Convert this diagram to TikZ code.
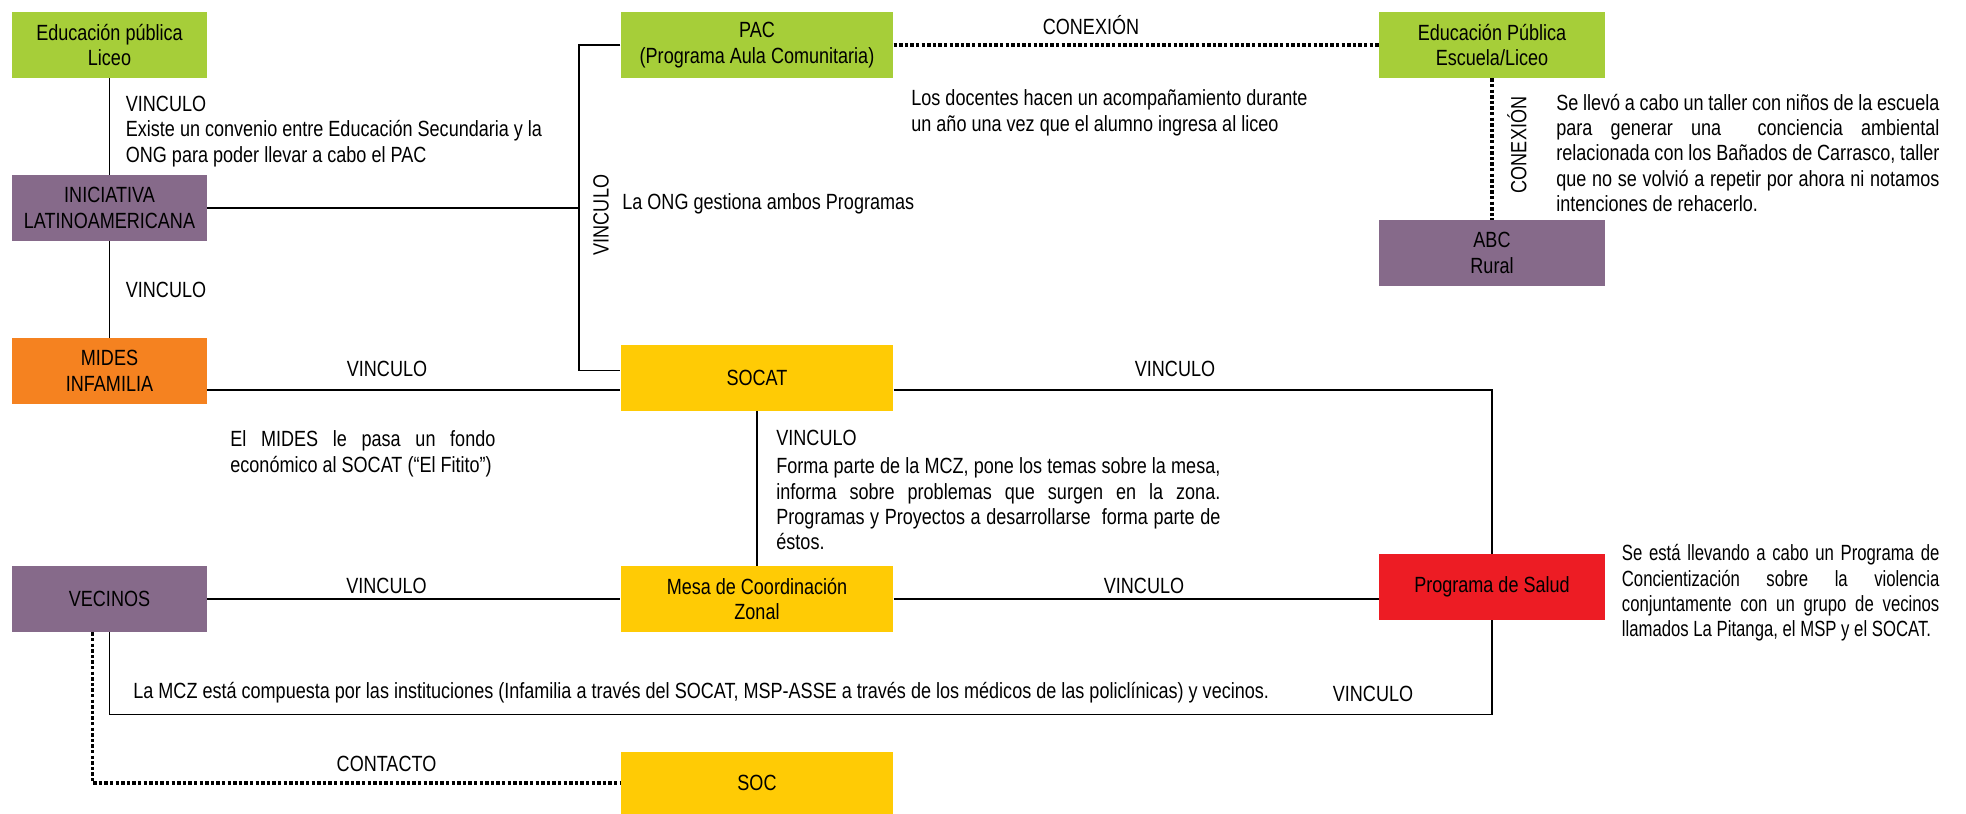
\documentclass[tikz,border=0pt]{standalone}
\usepackage{fontspec}
\setmainfont{Liberation Sans}[FakeStretch=0.82]
\newfontfamily\estrecha{Liberation Sans}[FakeStretch=0.76]
\usepackage{xcolor}
\usetikzlibrary{calc}
\hyphenpenalty=10000
\tolerance=10000

\definecolor{verde}{RGB}{166,206,57}
\definecolor{violeta}{RGB}{134,106,138}
\definecolor{naranja}{RGB}{245,130,32}
\definecolor{amarillo}{RGB}{255,203,5}
\definecolor{rojo}{RGB}{237,28,36}

\begin{document}
\begin{tikzpicture}[x=0.5pt, y=-0.5pt, font=\fontsize{11}{12.7}\selectfont,
		box/.style={inner sep=0pt, minimum height=33pt, align=center},
		izq/.style={box, minimum width=97.5pt},
		centro/.style={box, minimum width=136.25pt},
		der/.style={box, minimum width=113pt},
		enlace/.style={line width=0.9pt},
		conexion/.style={line width=1.7pt, dash pattern=on 1.7pt off 1.1pt},
		rotulo/.style={inner sep=0pt},
		parrafo/.style={inner sep=0pt, anchor=north west, align=justify}]
		\useasboundingbox (0,0) rectangle (1966,814);
		
		\node (liceo) at (109.5,45) [izq, fill=verde] {Educación pública\\Liceo};
		\node (iniciativa) at (109.5,208) [izq, fill=violeta] {INICIATIVA\\LATINOAMERICANA};
		\node (mides) at (109.5,371) [izq, fill=naranja] {MIDES\\INFAMILIA};
		\node (vecinos) at (109.5,599) [izq, fill=violeta] {VECINOS};
		
		\node (pac) at (757,45) [centro, fill=verde] {PAC\\(Programa Aula Comunitaria)};
		\node (socat) at (757,377.5) [centro, fill=amarillo] {SOCAT};
		\node (mcz) at (757,599) [centro, fill=amarillo] {Mesa de Coordinación\\Zonal};
		\node (soc) at (757,783) [centro, minimum height=31pt, fill=amarillo] {SOC};
		
		\node (escuela) at (1492,45) [der, fill=verde] {Educación Pública\\Escuela/Liceo};
		\node (abc) at (1492,253) [der, fill=violeta] {ABC\\Rural};
		\node (salud) at (1492,587) [der, fill=rojo] {Programa de Salud};
		
		\coordinate (ong) at (579,208);
		\coordinate (fondo) at ([yshift=-6.25pt]socat.west);
		
		\draw[enlace] (liceo) -- (iniciativa);
		\draw[enlace] (iniciativa) -- (mides);
		\draw[enlace] (iniciativa.east) -- (ong);
		\draw[enlace] (pac.west) -| (ong) |- ([yshift=3.5pt]socat.west);
		\draw[enlace] (mides.east |- fondo) -- (fondo);
		\draw[enlace] ([yshift=-6.25pt]socat.east) -| (salud.north);
		\draw[enlace] (socat) -- (mcz);
		\draw[enlace] (vecinos) -- (mcz);
		\draw[enlace] (mcz.east) -- (mcz.east -| salud.west);
		\draw[enlace] (vecinos.south) -- ++(0,82) -| (salud.south);
		
		\draw[conexion] (pac) -- (escuela);
		\draw[conexion] (escuela) -- (abc);
		\draw[conexion] ([xshift=-8.5pt]vecinos.south) |- (soc.west);
		
		\node (vliceo) at (125.5,95.5) [parrafo, align=left] {VINCULO\\Existe un convenio entre Educación Secundaria y la\\ONG para poder llevar a cabo el PAC};
		\node (vmides) at (125.5,290) [rotulo, anchor=west] {VINCULO};
		\node (vfondo) at (387,369) [rotulo] {VINCULO};
		\node (vong) at (601,215) [rotulo, rotate=90] {VINCULO};
		\node (gestiona) at (622,204) [rotulo, anchor=west] {La ONG gestiona ambos Programas};
		\node (cpac) at (1091,25) [rotulo] {CONEXIÓN};
		\node (docentes) at (911,89.5) [parrafo, align=left] {Los docentes hacen un acompañamiento durante\\un año una vez que el alumno ingresa al liceo};
		\node (cabc) at (1517,145) [rotulo, rotate=90] {CONEXIÓN};
		\node (taller) at (1556,93.5) [parrafo, text width=191.5pt] {Se llevó a cabo un taller con niños de la escuela \linebreak para generar una\ \ conciencia ambiental \linebreak relacionada con los Bañados de Carrasco, taller \linebreak que no se volvió a repetir por ahora ni notamos \linebreak intenciones de rehacerlo.};
		
		\node (vsalud) at (1175,369) [rotulo] {VINCULO};
		\node (fitito) at (230,430.5) [parrafo, text width=132.5pt] {El MIDES le pasa un fondo \linebreak económico al SOCAT (“El Fitito”)};
		\node (forma) at (776,429.5) [parrafo, text width=222pt] {VINCULO\\[1.5pt]Forma parte de la MCZ, pone los temas sobre la mesa, \linebreak informa sobre problemas que surgen en la zona. \linebreak Programas y Proyectos a desarrollarse\ \ forma parte de \linebreak éstos.};
		
		\node (vvecinos) at (386.5,586) [rotulo] {VINCULO};
		\node (vmcz) at (1144,586) [rotulo] {VINCULO};
		\node (violencia) at (1621.5,544) [parrafo, text width=158.75pt, font=\estrecha\fontsize{11}{12.7}\selectfont] {Se está llevando a cabo un Programa de \linebreak Concientización sobre la violencia \linebreak conjuntamente con un grupo de vecinos \linebreak llamados La Pitanga, el MSP y el SOCAT.};
		
		\node (compuesta) at (133,693) [rotulo, anchor=west] {La MCZ está compuesta por las instituciones (Infamilia a través del SOCAT, MSP-ASSE a través de los médicos de las policlínicas) y vecinos.};
		\node (vbase) at (1373,694) [rotulo] {VINCULO};
		\node (contacto) at (386.5,764) [rotulo] {CONTACTO};
	\end{tikzpicture}
\end{document}
